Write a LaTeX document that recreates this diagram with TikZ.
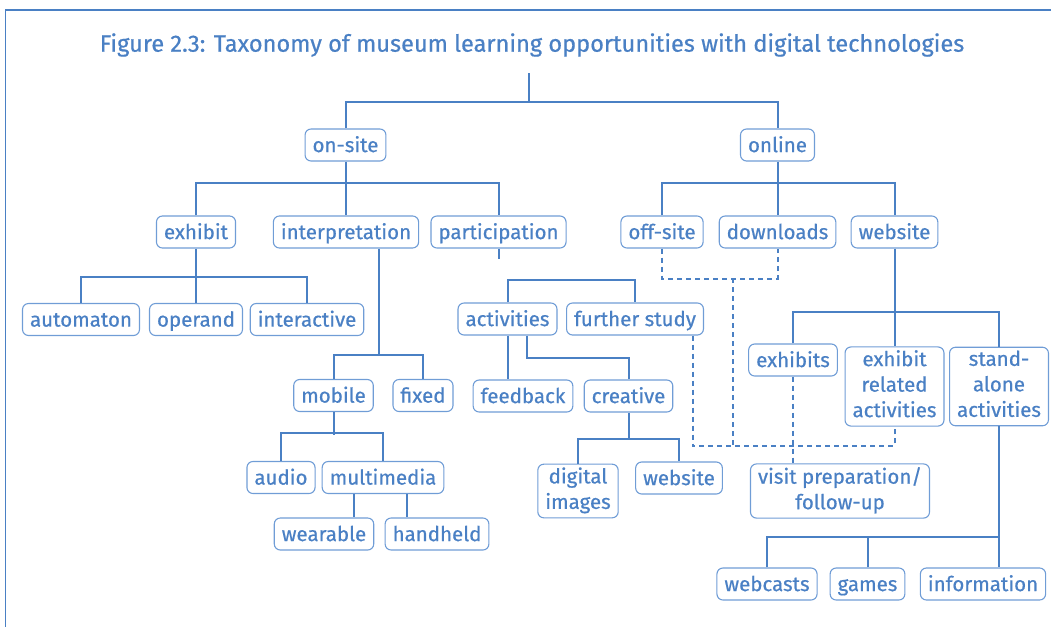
\documentclass[tikz,border=0pt]{standalone}
\usepackage{fontspec}
\setmainfont{Fira Sans}
\newfontfamily\nodefont{Fira Sans}[FakeBold=0.6]
\newcommand\boxstrut{\rule[-5.65pt]{0pt}{25.5pt}}
\usetikzlibrary{calc}
\definecolor{tblue}{RGB}{74,128,196}
\definecolor{bblue}{RGB}{112,157,214}
\begin{document}
\begin{tikzpicture}[x=1pt,y=-1pt,
  box/.style={draw=bblue, line width=1.1pt, rounded corners=6pt, text=tblue,
    font=\nodefont\fontsize{20.5}{25.5}\selectfont, inner xsep=7.5pt, inner ysep=3.25pt,
    align=center, execute at begin node=\boxstrut, execute at end node=\boxstrut},
  conn/.style={draw=tblue, line width=2pt},
  dconn/.style={draw=tblue, line width=2pt, dash pattern=on 5pt off 4pt}]
\useasboundingbox (0,0) rectangle (1051,627);
\draw[draw=tblue, line width=1.6pt] (1051,10) -- (5.5,10) -- (5.5,627);
\node[text=tblue, font=\nodefont\fontsize{23.6}{28}\selectfont] (title) at (532,45)
  {Figure 2.3: Taxonomy of museum learning opportunities with digital technologies};
% level 1
\node[box] (onsite) at (345.5,145) {on-site};
\node[box] (online) at (777.5,145) {online};
% level 2
\node[box] (exhibit) at (196,232) {exhibit};
\node[box] (interp) at (346,232) {interpretation};
\node[box] (particip) at (498.5,232) {participation};
\node[box] (offsite) at (662,232) {off-site};
\node[box] (downloads) at (777.5,232) {downloads};
\node[box] (website) at (894.5,232) {website};
% level 3
\node[box] (automaton) at (81,319.5) {automaton};
\node[box] (operand) at (196,319.5) {operand};
\node[box] (interactive) at (307,319.5) {interactive};
\node[box] (activities) at (507.5,319) {activities};
\node[box] (further) at (635,319) {further study};
\node[box] (exhibits) at (793,360) {exhibits};
\node[box] (exrel) at (894.5,386.5) {exhibit\\related\\activities};
\node[box] (standalone) at (999,386.5) {stand-\\alone\\activities};
% level 4
\node[box] (mobile) at (333.5,395.5) {mobile};
\node[box] (fixed) at (423,395.5) {fixed};
\node[box] (feedback) at (523,396) {feedback};
\node[box] (creative) at (628.5,396) {creative};
% level 5
\node[box] (audio) at (281,477.5) {audio};
\node[box] (multimedia) at (383,477.5) {multimedia};
\node[box] (digital) at (578,491) {digital\\images};
\node[box] (website2) at (679,478) {website};
\node[box] (visit) at (840,491) {visit preparation/\\follow-up};
% level 6
\node[box] (wearable) at (324,534) {wearable};
\node[box] (handheld) at (437,534) {handheld};
\node[box] (webcasts) at (767,584) {webcasts};
\node[box] (games) at (867.5,584) {games};
\node[box] (information) at (983,584) {information};
% junctions
\coordinate (top) at (529,73);
\coordinate (j0) at (529,102);
\coordinate (jm) at (379,356);
\coordinate (pstub) at (498.5,259);
\coordinate (jc) at (527,358);
\coordinate (jd1) at (733,278);
\coordinate (jd2) at (733,446);
\coordinate (js) at (998.5,537);
% solid connectors
\draw[conn] (top) -- (j0);
\draw[conn] (onsite.north) |- (j0) -| (online.north);
\draw[conn] (onsite.south) -- (interp.north -| onsite.south);
\draw[conn] (exhibit.north) -- ++(0,-32) -| (particip.north);
\draw[conn] (online.south) -- (downloads.north);
\draw[conn] (offsite.north) -- ++(0,-32) -| (website.north);
\draw[conn] (exhibit.south) -- (operand.north);
\draw[conn] (automaton.north) -- ++(0,-26) -| (interactive.north);
\draw[conn] (interp.south -| jm) -- (jm);
\draw[conn] (mobile.north) -- ++(0,-24) -| (fixed.north);
\draw[conn] (particip.south) -- (pstub);
\draw[conn] (activities.north) -- ++(0,-22) -| (further.north);
\draw[conn] (activities.south) -- (activities.south |- feedback.north);
\draw[conn] (activities.south -| jc) -- (jc) -| (creative.north);
\draw[conn] (creative.south) -- ++(0,25);
\draw[conn] (digital.north) -- ++(0,-25) -| (website2.north);
\draw[conn] (mobile.south) -- ++(0,23);
\draw[conn] (audio.north) -- ++(0,-28) -| (multimedia.north);
\draw[conn] ([xshift=-29pt]multimedia.south) -- ([xshift=30pt]wearable.north);
\draw[conn] ([xshift=24pt]multimedia.south) -- ([xshift=-30pt]handheld.north);
\draw[conn] (website.south) -- (exrel.north);
\draw[conn] (exhibits.north) -- ++(0,-31) -| (standalone.north);
\draw[conn] (standalone.south) -- (standalone.south |- information.north);
\draw[conn] (webcasts.north) |- (js);
\draw[conn] (games.north) -- (games.north |- js);
% dashed connectors
\draw[dconn] (offsite.south) -- ++(0,30) -| (downloads.south);
\draw[dconn] (jd1) -- (jd2);
\draw[dconn] ([xshift=57.5pt]further.south) |- (jd2) -| (exrel.south);
\draw[dconn] (exhibits.south) -- (exhibits.south |- visit.north);
\end{tikzpicture}
\end{document}
